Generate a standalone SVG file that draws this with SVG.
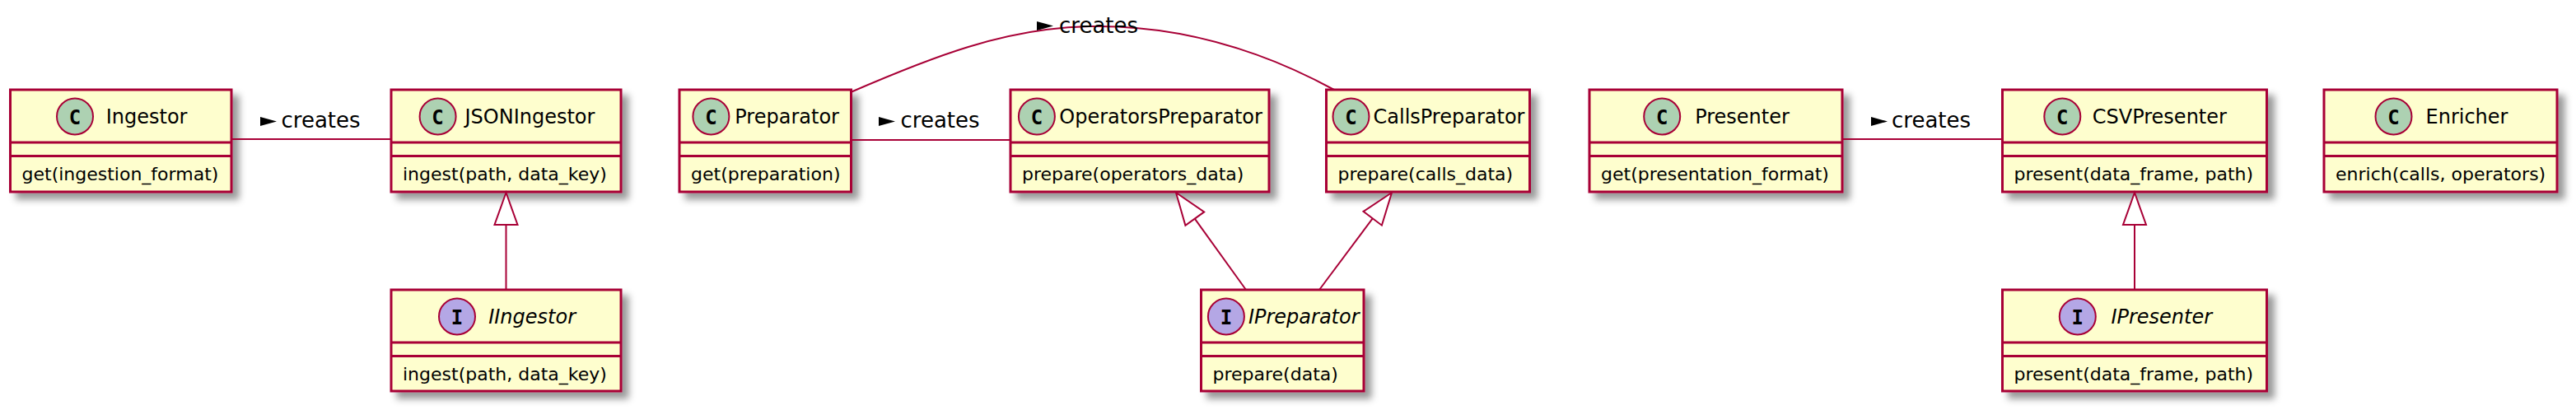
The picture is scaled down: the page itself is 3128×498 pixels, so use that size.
<svg xmlns="http://www.w3.org/2000/svg" width="3128" height="498" viewBox="0 0 3128 498">
<defs>
<filter id="sh" x="-0.2" y="-0.2" width="1.4" height="1.6">
<feGaussianBlur in="SourceAlpha" stdDeviation="4" result="b"/>
<feColorMatrix in="b" type="matrix" values="0 0 0 0 0  0 0 0 0 0  0 0 0 0 0  0 0 0 .4 0" result="b2"/>
<feOffset in="b2" dx="8" dy="8" result="b3"/>
<feMerge><feMergeNode in="b3"/><feMergeNode in="SourceGraphic"/></feMerge>
</filter>
</defs>
<style>
.box{fill:#FEFECE;stroke:#A80036;stroke-width:3}
.sep{stroke:#A80036;stroke-width:3}
.cc{fill:#ADD1B2;stroke:#A80036;stroke-width:2}
.ci{fill:#B4A7E5;stroke:#A80036;stroke-width:2}
.cl{font-family:"DejaVu Sans Mono",monospace;font-weight:bold;font-size:24px;text-anchor:middle;fill:#000}
.nm{font-family:"DejaVu Sans",sans-serif;font-size:24px;fill:#000}
.it{font-style:italic}
.mt{font-family:"DejaVu Sans",sans-serif;font-size:22px;fill:#000}
.lk{stroke:#A80036;stroke-width:2;fill:none}
.tri{stroke:#A80036;stroke-width:2;fill:#FFFFFF}
.dir{fill:#000}
.lb{font-family:"DejaVu Sans",sans-serif;font-size:26px;fill:#000}
</style>
<rect width="3128" height="498" fill="#FFFFFF"/>

<g id="Ingestor">
<rect class="box" filter="url(#sh)" x="12.5" y="109" width="268.5" height="124"/>
<line class="sep" x1="12.5" y1="173" x2="281" y2="173"/>
<line class="sep" x1="12.5" y1="189.5" x2="281" y2="189.5"/>
<circle class="cc" cx="91" cy="141.5" r="22"/>
<text class="cl" x="91" y="150.5">C</text>
<text class="nm" x="128.7" y="150">Ingestor</text>
<text class="mt" x="26.5" y="218.5">get(ingestion_format)</text>
</g>

<g id="JSONIngestor">
<rect class="box" filter="url(#sh)" x="475" y="109" width="279" height="124"/>
<line class="sep" x1="475" y1="173" x2="754" y2="173"/>
<line class="sep" x1="475" y1="189.5" x2="754" y2="189.5"/>
<circle class="cc" cx="531.6" cy="141.5" r="22"/>
<text class="cl" x="531.6" y="150.5">C</text>
<text class="nm" x="564.5" y="150">JSONIngestor</text>
<text class="mt" x="489" y="218.5">ingest(path, data_key)</text>
</g>

<g id="Preparator">
<rect class="box" filter="url(#sh)" x="825" y="109" width="208.5" height="124"/>
<line class="sep" x1="825" y1="173" x2="1033.5" y2="173"/>
<line class="sep" x1="825" y1="189.5" x2="1033.5" y2="189.5"/>
<circle class="cc" cx="863.4" cy="141.5" r="22"/>
<text class="cl" x="863.4" y="150.5">C</text>
<text class="nm" x="892.3" y="150">Preparator</text>
<text class="mt" x="839" y="218.5">get(preparation)</text>
</g>

<g id="OperatorsPreparator">
<rect class="box" filter="url(#sh)" x="1227" y="109" width="314" height="124"/>
<line class="sep" x1="1227" y1="173" x2="1541" y2="173"/>
<line class="sep" x1="1227" y1="189.5" x2="1541" y2="189.5"/>
<circle class="cc" cx="1258.9" cy="141.5" r="22"/>
<text class="cl" x="1258.9" y="150.5">C</text>
<text class="nm" x="1286.3" y="150">OperatorsPreparator</text>
<text class="mt" x="1241" y="218.5">prepare(operators_data)</text>
</g>

<g id="CallsPreparator">
<rect class="box" filter="url(#sh)" x="1610.5" y="109" width="247" height="124"/>
<line class="sep" x1="1610.5" y1="173" x2="1857.5" y2="173"/>
<line class="sep" x1="1610.5" y1="189.5" x2="1857.5" y2="189.5"/>
<circle class="cc" cx="1640.5" cy="141.5" r="22"/>
<text class="cl" x="1640.5" y="150.5">C</text>
<text class="nm" x="1667.5" y="150">CallsPreparator</text>
<text class="mt" x="1624.5" y="218.5">prepare(calls_data)</text>
</g>

<g id="Presenter">
<rect class="box" filter="url(#sh)" x="1930" y="109" width="307" height="124"/>
<line class="sep" x1="1930" y1="173" x2="2237" y2="173"/>
<line class="sep" x1="1930" y1="189.5" x2="2237" y2="189.5"/>
<circle class="cc" cx="2018.2" cy="141.5" r="22"/>
<text class="cl" x="2018.2" y="150.5">C</text>
<text class="nm" x="2058.2" y="150">Presenter</text>
<text class="mt" x="1944" y="218.5">get(presentation_format)</text>
</g>

<g id="CSVPresenter">
<rect class="box" filter="url(#sh)" x="2431.5" y="109" width="321" height="124"/>
<line class="sep" x1="2431.5" y1="173" x2="2752.5" y2="173"/>
<line class="sep" x1="2431.5" y1="189.5" x2="2752.5" y2="189.5"/>
<circle class="cc" cx="2504.3" cy="141.5" r="22"/>
<text class="cl" x="2504.3" y="150.5">C</text>
<text class="nm" x="2540.8" y="150">CSVPresenter</text>
<text class="mt" x="2445.5" y="218.5">present(data_frame, path)</text>
</g>

<g id="Enricher">
<rect class="box" filter="url(#sh)" x="2822" y="109" width="283" height="124"/>
<line class="sep" x1="2822" y1="173" x2="3105" y2="173"/>
<line class="sep" x1="2822" y1="189.5" x2="3105" y2="189.5"/>
<circle class="cc" cx="2906.5" cy="141.5" r="22"/>
<text class="cl" x="2906.5" y="150.5">C</text>
<text class="nm" x="2945.5" y="150">Enricher</text>
<text class="mt" x="2836" y="218.5">enrich(calls, operators)</text>
</g>

<g id="IIngestor">
<rect class="box" filter="url(#sh)" x="475" y="352" width="279" height="123"/>
<line class="sep" x1="475" y1="416" x2="754" y2="416"/>
<line class="sep" x1="475" y1="432.5" x2="754" y2="432.5"/>
<circle class="ci" cx="555" cy="384.5" r="22"/>
<text class="cl" x="555" y="393.5">I</text>
<text class="nm it" x="593.2" y="393">IIngestor</text>
<text class="mt" x="489" y="461.5">ingest(path, data_key)</text>
</g>

<g id="IPreparator">
<rect class="box" filter="url(#sh)" x="1458.5" y="352" width="197.5" height="123"/>
<line class="sep" x1="1458.5" y1="416" x2="1656" y2="416"/>
<line class="sep" x1="1458.5" y1="432.5" x2="1656" y2="432.5"/>
<circle class="ci" cx="1488.9" cy="384.5" r="22"/>
<text class="cl" x="1488.9" y="393.5">I</text>
<text class="nm it" x="1515.9" y="393">IPreparator</text>
<text class="mt" x="1472.5" y="461.5">prepare(data)</text>
</g>

<g id="IPresenter">
<rect class="box" filter="url(#sh)" x="2431.5" y="352" width="321" height="123"/>
<line class="sep" x1="2431.5" y1="416" x2="2752.5" y2="416"/>
<line class="sep" x1="2431.5" y1="432.5" x2="2752.5" y2="432.5"/>
<circle class="ci" cx="2522.8" cy="384.5" r="22"/>
<text class="cl" x="2522.8" y="393.5">I</text>
<text class="nm it" x="2563.4" y="393">IPresenter</text>
<text class="mt" x="2445.5" y="461.5">present(data_frame, path)</text>
</g>

<g id="connectors">
<line class="lk" x1="281" y1="169" x2="475" y2="169"/>
<polygon class="dir" points="316,142 336,147.5 316,153"/>
<text class="lb" x="341.5" y="155">creates</text>

<line class="lk" x1="1033.5" y1="170" x2="1227" y2="170"/>
<polygon class="dir" points="1067,142 1087,147.5 1067,153"/>
<text class="lb" x="1093.5" y="155">creates</text>

<line class="lk" x1="2237" y1="169" x2="2431.5" y2="169"/>
<polygon class="dir" points="2272,142 2292,147.5 2272,153"/>
<text class="lb" x="2297" y="155">creates</text>

<path class="lk" d="M1033,112 C1130,70 1220,34 1323,32 C1430,30 1530,60 1620,109"/>
<polygon class="dir" points="1259,26 1279,31.5 1259,37"/>
<text class="lb" x="1286" y="40">creates</text>

<line class="lk" x1="614.5" y1="273" x2="614.5" y2="352"/>
<polygon class="tri" points="614.5,234 600.5,273 628.5,273"/>

<line class="lk" x1="2592" y1="273" x2="2592" y2="352"/>
<polygon class="tri" points="2592,234 2578,273 2606,273"/>

<line class="lk" x1="1450.8" y1="265.6" x2="1513" y2="352"/>
<polygon class="tri" points="1428,234 1462.2,257.4 1439.4,273.8"/>

<line class="lk" x1="1666.7" y1="265.3" x2="1602" y2="352"/>
<polygon class="tri" points="1690,234 1677.9,273.7 1655.5,256.9"/>
</g>
</svg>
